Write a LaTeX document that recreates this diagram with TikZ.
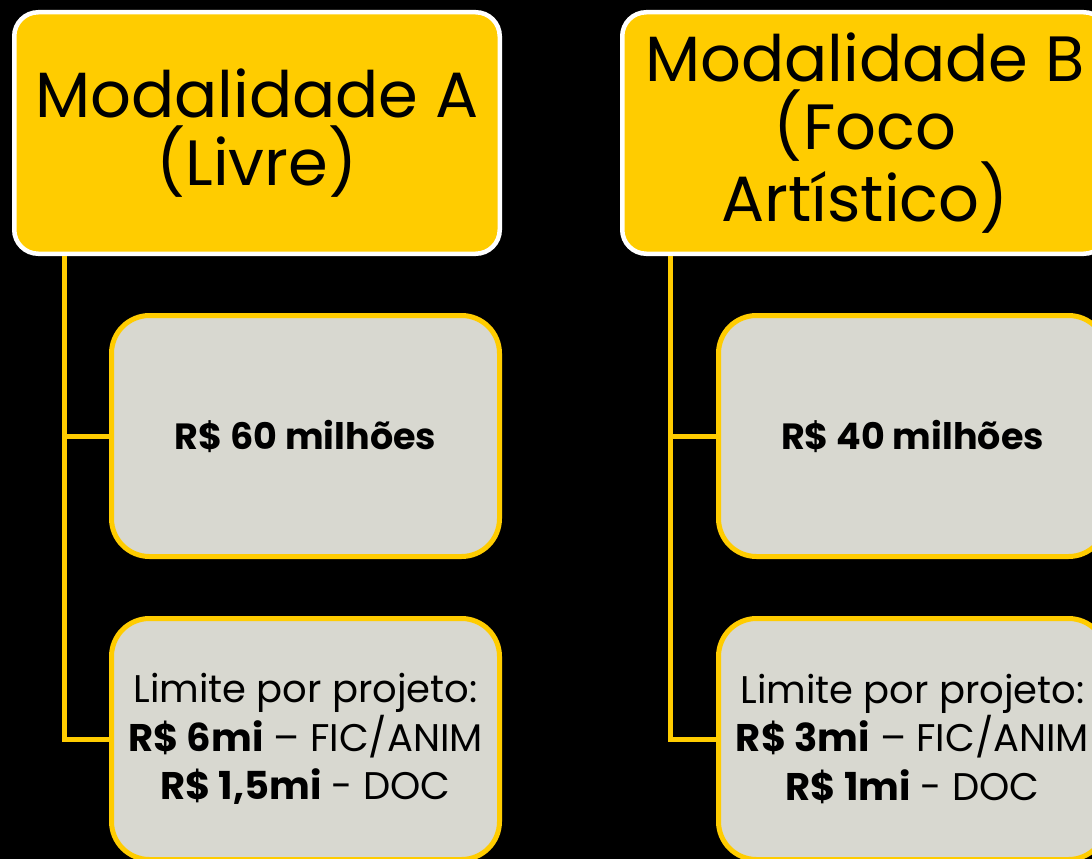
\documentclass[tikz,border=0pt]{standalone}
\usepackage{fontspec}
\setmainfont{Poppins}
\definecolor{gold}{RGB}{255,204,0}
\definecolor{panel}{RGB}{216,216,208}
\begin{document}
\begin{tikzpicture}[x=1pt,y=-1pt,
  head/.style={draw=white, line width=4.5pt, fill=gold, rounded corners=24pt,
    minimum width=485.5pt, minimum height=241.5pt, inner sep=0pt, align=center,
    text=black, font=\fontsize{64}{68}\selectfont},
  card/.style={draw=gold, line width=5pt, fill=panel, rounded corners=38pt,
    minimum width=388pt, minimum height=241pt, inner sep=0pt, align=center,
    text=black},
  big/.style={font=\fontsize{36.5}{48}\selectfont},
  small/.style={font=\fontsize{38.5}{48.5}\selectfont},
  link/.style={draw=gold, line width=5pt}]
\useasboundingbox (0,0) rectangle (1092,859);
\fill[black] (0,0) rectangle (1092,859);
\clip (0,0) rectangle (1092,859);
\coordinate (cA) at (64,0);
\coordinate (cB) at (670,0);
\node[head] (headA) at (257,133) {Modalidade A\\(Livre)};
\node[head] (headB) at (865,133) {Modalidade B\\(Foco\\Artístico)};
\node[card,big] (cardA1) at (305.5,436) {\textbf{R\$ 60 milhões}};
\node[card,small] (cardA2) at (305.5,739) {Limite por projeto:\\\textbf{R\$ 6mi} – FIC/ANIM\\\textbf{R\$ 1,5mi} - DOC};
\node[card,big] (cardB1) at (912.5,436) {\textbf{R\$ 40 milhões}};
\node[card,small] (cardB2) at (912.5,739) {Limite por projeto:\\\textbf{R\$ 3mi} – FIC/ANIM\\\textbf{R\$ 1mi} - DOC};
\draw[link] (headA.south -| cA) |- (cardA2.west);
\draw[link] (cA |- cardA1.west) -- (cardA1.west);
\draw[link] (headB.south -| cB) |- (cardB2.west);
\draw[link] (cB |- cardB1.west) -- (cardB1.west);
\end{tikzpicture}
\end{document}
